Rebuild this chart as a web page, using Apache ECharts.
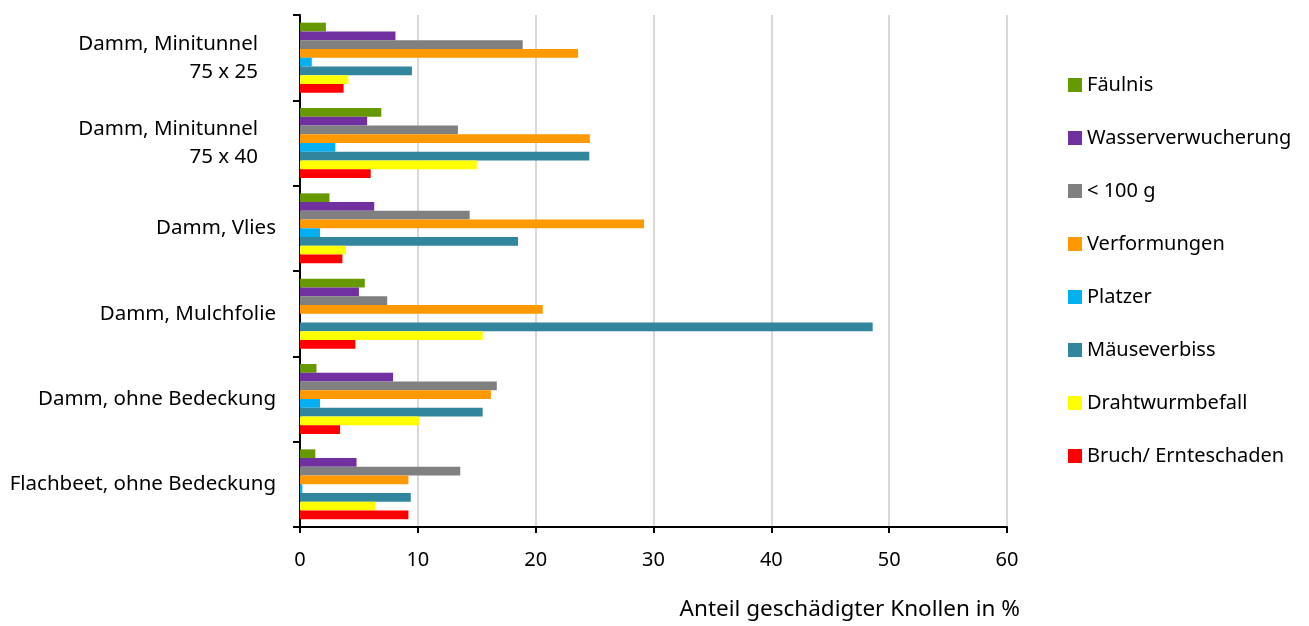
<!DOCTYPE html>
<html>
<head>
<meta charset="utf-8">
<script src="https://cdn.jsdelivr.net/npm/echarts@6/dist/echarts.min.js"></script>
<style>html,body{margin:0;padding:0;background:#fff}#c{width:1309px;height:626px}</style>
</head>
<body>
<div id="c"></div>
<script>
// categories listed bottom to top
var categories = ['Flachbeet, ohne Bedeckung', 'Damm, ohne Bedeckung', 'Damm, Mulchfolie', 'Damm, Vlies', 'Damm, Minitunnel\n75 x 40', 'Damm, Minitunnel\n75 x 25'];
var xTicks = [0, 10, 20, 30, 40, 50, 60];
var faeulnis = [1.3, 1.4, 5.5, 2.5, 6.9, 2.2];
var wasserverwucherung = [4.8, 7.9, 5.0, 6.3, 5.7, 8.1];
var unter100g = [13.6, 16.7, 7.4, 14.4, 13.4, 18.9];
var verformungen = [9.2, 16.2, 20.6, 29.2, 24.6, 23.6];
var platzer = [0.2, 1.7, 0, 1.7, 3.0, 1.0];
var maeuseverbiss = [9.4, 15.5, 48.6, 18.5, 24.55, 9.5];
var drahtwurmbefall = [6.4, 10.1, 15.5, 3.9, 15.0, 4.1];
var bruch = [9.2, 3.4, 4.7, 3.6, 6.0, 3.7];

var seriesDefs = [
  {name: 'Fäulnis', data: faeulnis, color: '#669900'},
  {name: 'Wasserverwucherung', data: wasserverwucherung, color: '#7030a0'},
  {name: '< 100 g', data: unter100g, color: '#808080'},
  {name: 'Verformungen', data: verformungen, color: '#ff9900'},
  {name: 'Platzer', data: platzer, color: '#00b0f0'},
  {name: 'Mäuseverbiss', data: maeuseverbiss, color: '#31859c'},
  {name: 'Drahtwurmbefall', data: drahtwurmbefall, color: '#ffff00'},
  {name: 'Bruch/ Ernteschaden', data: bruch, color: '#ff0000'}
];

var font = "'Noto Sans', 'Open Sans', sans-serif";
var chart = echarts.init(document.getElementById('c'), null, {renderer: 'canvas'});
chart.setOption({
  animation: false,
  textStyle: {fontFamily: font},
  grid: {left: 300, right: 302, top: 15, bottom: 99, containLabel: false},
  legend: {
    orient: 'vertical',
    left: 1063,
    top: 70,
    itemWidth: 14,
    itemHeight: 14,
    itemGap: 33,
    icon: 'rect',
    data: seriesDefs.map(function (s) { return s.name; }),
    textStyle: {fontFamily: font, fontSize: 20, lineHeight: 20, color: '#000'}
  },
  xAxis: {
    type: 'value',
    min: xTicks[0],
    max: xTicks[xTicks.length - 1],
    interval: 10,
    name: 'Anteil geschädigter Knollen in %',
    nameLocation: 'end',
    nameGap: 13,
    nameTextStyle: {fontFamily: font, fontSize: 22.5, color: '#000', align: 'right', verticalAlign: 'top', padding: [71, 0, 0, 0]},
    axisLine: {show: true, lineStyle: {color: '#000', width: 2}},
    axisTick: {show: true, length: 6, lineStyle: {color: '#000', width: 2}},
    axisLabel: {fontFamily: font, fontSize: 20, color: '#000', margin: 23},
    splitLine: {show: true, lineStyle: {color: '#d9d9d9', width: 2}}
  },
  yAxis: {
    type: 'category',
    data: categories,
    axisLine: {show: true, lineStyle: {color: '#000', width: 2}},
    axisTick: {show: true, length: 7, lineStyle: {color: '#000', width: 2}},
    axisLabel: {
      fontFamily: font, fontSize: 20.5, color: '#000', margin: 24, lineHeight: 28, align: 'right',
      formatter: function (v) { return v.indexOf('\n') >= 0 ? '{m|' + v.replace('\n', '}\n{m|') + '}' : v; },
      rich: {m: {fontFamily: font, fontSize: 20.5, color: '#000', padding: [0, 18, 0, 0], lineHeight: 28}}
    },
    splitLine: {show: false}
  },
  series: seriesDefs.map(function (s) {
    return {
      name: s.name, type: 'bar', data: s.data,
      itemStyle: {color: s.color},
      barGap: '0%', barCategoryGap: '18%'
    };
  })
});
</script>
</body>
</html>
